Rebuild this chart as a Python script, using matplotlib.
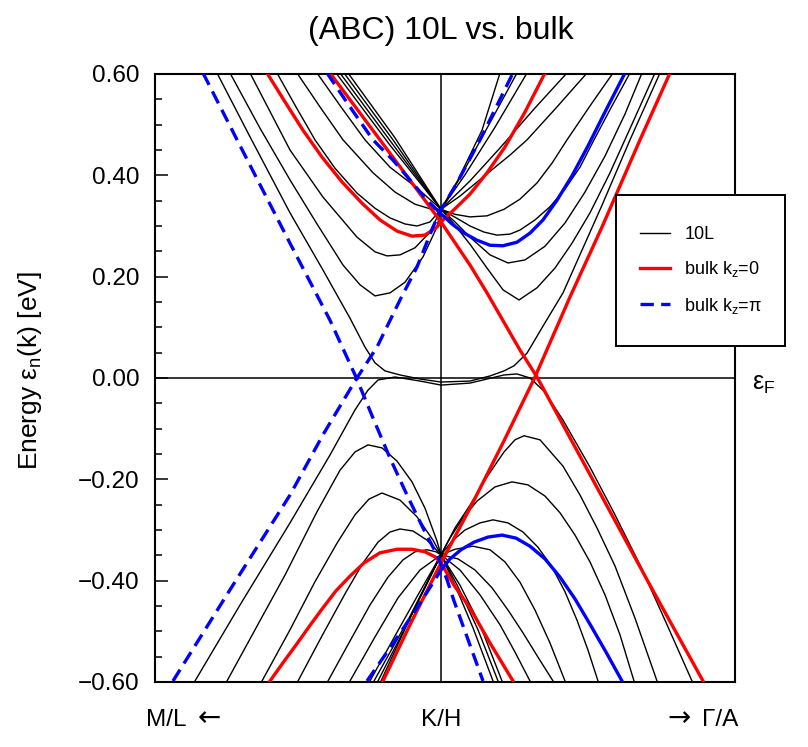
import matplotlib
matplotlib.use("Agg")
import matplotlib.pyplot as plt
import numpy as np
from matplotlib.ticker import MultipleLocator, FuncFormatter
from matplotlib.patches import Rectangle

# k along M/L <- K/H -> Gamma/A (K/H at 0), energies in eV

# ---- 10L (ABC) bands, conduction side
k_c1 = [-2.24, -1.91, -1.51, -1.18, -0.91, -0.76, -0.66, -0.56, -0.41, -0.21, 0, 0.29, 0.49, 0.63, 0.73, 0.86, 1.04, 1.22, 1.61, 1.89, 2.19]
e_c1 = [0.602, 0.476, 0.326, 0.213, 0.118, 0.061, 0.030, 0.014, 0.006, -0.002, -0.008, -0.006, 0.004, 0.014, 0.024, 0.049, 0.109, 0.168, 0.341, 0.470, 0.602]
k_c2 = [-2.11, -1.81, -1.51, -1.24, -0.98, -0.81, -0.66, -0.51, -0.36, -0.18, -0.04, 0, 0.13, 0.29, 0.46, 0.62, 0.78, 0.96, 1.14, 1.31, 1.49, 1.69, 1.91, 2.14]
e_c2 = [0.602, 0.493, 0.391, 0.304, 0.223, 0.184, 0.162, 0.168, 0.189, 0.239, 0.298, 0.333, 0.304, 0.264, 0.217, 0.174, 0.154, 0.178, 0.217, 0.266, 0.326, 0.405, 0.501, 0.602]
k_c3 = [-1.91, -1.51, -1.18, -0.84, -0.66, -0.54, -0.41, -0.26, -0.11, 0, 0.14, 0.29, 0.49, 0.67, 0.84, 1.04, 1.24, 1.44, 1.64, 1.84, 2.01]
e_c3 = [0.602, 0.450, 0.357, 0.278, 0.249, 0.241, 0.243, 0.257, 0.288, 0.333, 0.308, 0.278, 0.243, 0.227, 0.233, 0.260, 0.306, 0.367, 0.438, 0.521, 0.602]
k_c4 = [-1.64, -1.45, -1.26, -1.06, -0.84, -0.66, -0.51, -0.36, -0.24, -0.11, 0, 0.17, 0.29, 0.43, 0.56, 0.69, 0.79, 0.94, 1.09, 1.24, 1.39, 1.53, 1.71, 1.89]
e_c4 = [0.602, 0.535, 0.470, 0.414, 0.365, 0.335, 0.316, 0.304, 0.300, 0.308, 0.333, 0.314, 0.300, 0.288, 0.282, 0.284, 0.292, 0.312, 0.338, 0.373, 0.416, 0.470, 0.537, 0.602]
k_c5 = [-1.44, -1.21, -0.98, -0.68, -0.46, -0.26, -0.11, 0, 0.14, 0.29, 0.46, 0.63, 0.79, 0.96, 1.11, 1.26, 1.49, 1.72]
e_c5 = [0.602, 0.535, 0.470, 0.405, 0.367, 0.343, 0.334, 0.333, 0.323, 0.318, 0.320, 0.333, 0.353, 0.385, 0.424, 0.470, 0.537, 0.602]
k_c6 = [-1.24, -1.00, -0.76, -0.51, -0.24, 0, 0.19, 0.46, 0.69, 0.86, 1.16, 1.46]
e_c6 = [0.602, 0.535, 0.470, 0.416, 0.375, 0.333, 0.359, 0.403, 0.440, 0.470, 0.535, 0.602]
k_c7 = [-1.05, -0.52, 0, 0.29, 0.59, 0.94, 1.26]
e_c7 = [0.602, 0.462, 0.333, 0.389, 0.454, 0.533, 0.602]
k_c8 = [-1.01, -0.50, 0, 0.24, 0.54, 0.86]
e_c8 = [0.602, 0.466, 0.333, 0.401, 0.495, 0.602]
k_c9 = [-0.97, -0.48, 0, 0.19, 0.46, 0.76]
e_c9 = [0.602, 0.470, 0.333, 0.395, 0.493, 0.602]
k_c10 = [-0.93, -0.46, 0, 0.17, 0.41, 0.59]
e_c10 = [0.602, 0.474, 0.333, 0.391, 0.489, 0.602]

# ---- 10L bands, valence side
k_v1 = [-2.46, -2.01, -1.51, -1.11, -0.86, -0.73, -0.63, -0.46, -0.21, 0, 0.29, 0.63, 0.76, 0.89, 1.03, 1.22, 1.49, 1.74, 1.99, 2.24, 2.51]
e_v1 = [-0.598, -0.448, -0.286, -0.152, -0.063, -0.024, -0.004, 0.002, -0.006, -0.014, -0.010, 0.006, 0.008, 0.000, -0.026, -0.083, -0.176, -0.270, -0.369, -0.478, -0.598]
k_v2 = [-2.14, -1.86, -1.56, -1.24, -1.01, -0.86, -0.73, -0.59, -0.44, -0.29, -0.16, -0.04, 0, 0.14, 0.29, 0.46, 0.63, 0.74, 0.83, 0.99, 1.22, 1.39, 1.56, 1.74, 1.94, 2.16]
e_v2 = [-0.598, -0.497, -0.389, -0.264, -0.182, -0.146, -0.132, -0.138, -0.164, -0.205, -0.257, -0.322, -0.349, -0.296, -0.251, -0.195, -0.146, -0.122, -0.114, -0.122, -0.174, -0.231, -0.296, -0.371, -0.474, -0.598]
k_v3 = [-1.79, -1.51, -1.26, -1.04, -0.86, -0.72, -0.59, -0.41, -0.24, -0.08, 0, 0.09, 0.22, 0.36, 0.54, 0.71, 0.87, 1.04, 1.19, 1.34, 1.49, 1.64, 1.79, 1.93]
e_v3 = [-0.598, -0.497, -0.402, -0.326, -0.270, -0.239, -0.227, -0.241, -0.274, -0.320, -0.349, -0.316, -0.276, -0.243, -0.215, -0.205, -0.211, -0.233, -0.266, -0.310, -0.363, -0.428, -0.507, -0.598]
k_v4 = [-1.43, -1.19, -0.96, -0.78, -0.63, -0.51, -0.41, -0.28, -0.14, 0, 0.11, 0.24, 0.39, 0.52, 0.67, 0.82, 0.97, 1.11, 1.24, 1.36, 1.47, 1.57]
e_v4 = [-0.598, -0.509, -0.426, -0.365, -0.324, -0.304, -0.298, -0.302, -0.320, -0.349, -0.322, -0.300, -0.286, -0.280, -0.286, -0.304, -0.334, -0.373, -0.422, -0.478, -0.537, -0.598]
k_v5 = [-1.13, -0.91, -0.71, -0.53, -0.38, -0.26, -0.14, -0.05, 0, 0.14, 0.32, 0.49, 0.64, 0.79, 0.94, 1.09, 1.24]
e_v5 = [-0.598, -0.519, -0.448, -0.393, -0.359, -0.343, -0.339, -0.343, -0.349, -0.338, -0.332, -0.339, -0.363, -0.403, -0.458, -0.523, -0.598]
k_v6 = [-0.91, -0.66, -0.43, -0.21, 0, 0.17, 0.34, 0.51, 0.67, 0.82, 0.97, 1.12]
e_v6 = [-0.598, -0.511, -0.434, -0.379, -0.349, -0.357, -0.379, -0.414, -0.458, -0.503, -0.551, -0.598]
k_v7 = [-0.71, -0.46, -0.23, 0, 0.19, 0.39, 0.59, 0.74, 0.89]
e_v7 = [-0.598, -0.509, -0.428, -0.349, -0.379, -0.428, -0.487, -0.541, -0.598]
k_v8 = [-0.67, -0.33, 0, 0.19, 0.39, 0.61]
e_v8 = [-0.598, -0.478, -0.349, -0.409, -0.487, -0.598]
k_v9 = [-0.63, -0.31, 0, 0.17, 0.37, 0.57]
e_v9 = [-0.598, -0.474, -0.349, -0.412, -0.497, -0.598]
k_v10 = [-0.60, -0.30, 0, 0.14, 0.32, 0.52]
e_v10 = [-0.598, -0.470, -0.349, -0.409, -0.493, -0.598]

# ---- bulk, kz = 0
k_r1 = [-1.11, -0.61, 0, 0.29, 0.46, 0.79, 0.96, 1.59, 2.09, 2.62]
e_r1 = [0.602, 0.470, 0.308, 0.223, 0.168, 0.055, 0.002, -0.227, -0.409, -0.598]
k_r2 = [-0.58, -0.31, 0, 0.29, 0.63, 0.94, 1.29, 1.61, 1.99, 2.29]
e_r2 = [-0.598, -0.487, -0.365, -0.257, -0.124, 0.002, 0.160, 0.298, 0.470, 0.602]
k_r3 = [-1.74, -1.56, -1.38, -1.19, -0.99, -0.79, -0.61, -0.44, -0.29, -0.16, -0.04, 0, 0.14, 0.29, 0.46, 0.64, 0.84, 1.04]
e_r3 = [0.602, 0.545, 0.489, 0.436, 0.387, 0.345, 0.312, 0.290, 0.280, 0.282, 0.298, 0.308, 0.334, 0.363, 0.405, 0.456, 0.525, 0.602]
k_r4 = [-1.71, -1.58, -1.45, -1.32, -1.19, -1.05, -0.91, -0.77, -0.61, -0.44, -0.29, -0.16, -0.06, 0, 0.13, 0.29, 0.49, 0.72]
e_r4 = [-0.598, -0.562, -0.527, -0.491, -0.456, -0.420, -0.391, -0.365, -0.345, -0.338, -0.338, -0.343, -0.353, -0.365, -0.409, -0.454, -0.523, -0.598]

# ---- bulk, kz = pi
k_b1 = [-2.38, -1.91, -1.51, -1.11, -0.85, -0.68, -0.51, -0.34, -0.18, -0.04, 0.06, 0.13, 0.42]
e_b1 = [0.602, 0.420, 0.266, 0.114, 0.002, -0.079, -0.158, -0.231, -0.296, -0.349, -0.398, -0.440, -0.598]
k_b2 = [-2.68, -2.11, -1.51, -1.18, -0.86, -0.64, -0.41, -0.24, -0.08, 0, 0.16, 0.39, 0.72]
e_b2 = [-0.598, -0.418, -0.231, -0.112, -0.006, 0.061, 0.154, 0.219, 0.298, 0.332, 0.385, 0.470, 0.602]
k_b3 = [-1.14, -0.91, -0.68, -0.48, -0.31, -0.14, 0, 0.11, 0.23, 0.36, 0.49, 0.62, 0.76, 0.89, 1.02, 1.16, 1.31, 1.47, 1.64, 1.84]
e_b3 = [0.602, 0.535, 0.470, 0.430, 0.391, 0.351, 0.324, 0.304, 0.286, 0.272, 0.262, 0.261, 0.268, 0.286, 0.312, 0.351, 0.399, 0.458, 0.525, 0.602]
k_b4 = [-0.74, -0.49, -0.24, 0, 0.09, 0.20, 0.33, 0.47, 0.61, 0.75, 0.89, 1.04, 1.19, 1.34, 1.49, 1.65, 1.81]
e_b4 = [-0.598, -0.527, -0.454, -0.379, -0.357, -0.339, -0.324, -0.314, -0.310, -0.316, -0.332, -0.357, -0.393, -0.436, -0.486, -0.541, -0.598]

# path labels under the axis (text part and arrow part)
xlab_pos = [-2.75, 0, 2.79]
xlab_txt = ["M/L", "K/H", "\u0393/A"]
arrow_pos = [-2.32, 2.385]
arrow_txt = ["\u2190", "\u2192"]

plt.rcParams['font.family'] = ['Liberation Sans', 'DejaVu Sans']
plt.rcParams['mathtext.default'] = 'regular'

W, H = 808, 747
fig = plt.figure(figsize=(W / 100, H / 100), dpi=100)
ax = fig.add_axes([155 / W, 1 - 682 / H, 580 / W, 608 / H])

black = [(k_c1, e_c1), (k_c2, e_c2), (k_c3, e_c3), (k_c4, e_c4), (k_c5, e_c5),
         (k_c6, e_c6), (k_c7, e_c7), (k_c8, e_c8), (k_c9, e_c9), (k_c10, e_c10),
         (k_v1, e_v1), (k_v2, e_v2), (k_v3, e_v3), (k_v4, e_v4), (k_v5, e_v5),
         (k_v6, e_v6), (k_v7, e_v7), (k_v8, e_v8), (k_v9, e_v9), (k_v10, e_v10)]
red = [(k_r1, e_r1), (k_r2, e_r2), (k_r3, e_r3), (k_r4, e_r4)]
blue_dash = [(k_b1, e_b1), (k_b2, e_b2)]
blue_split = [(k_b3, e_b3), (k_b4, e_b4)]

ax.axhline(0, color='black', lw=1.1, zorder=1)
ax.axvline(0, color='black', lw=1.1, zorder=1)

dash = (0, (4.0, 2.2))
for k, e in black:
    h_black, = ax.plot(k, e, color='black', lw=1.0, solid_joinstyle='round', zorder=2)
for k, e in red:
    h_red, = ax.plot(k, e, color='#ff0000', lw=2.4, solid_joinstyle='round', zorder=3)
for k, e in blue_dash:
    h_blue, = ax.plot(k, e, color='#0000ff', lw=2.4, ls=dash, zorder=4)
for k, e in blue_split:
    k = np.array(k)
    e = np.array(e)
    left = k <= 0
    right = k >= 0
    ax.plot(k[left], e[left], color='#0000ff', lw=2.4, ls=dash, zorder=4)
    ax.plot(k[right], e[right], color='#0000ff', lw=2.4, solid_joinstyle='round', zorder=4)

ax.set_xlim(-2.86, 2.94)
ax.set_ylim(-0.6, 0.6)

ax.yaxis.set_major_locator(MultipleLocator(0.2))
ax.yaxis.set_minor_locator(MultipleLocator(0.05))
ax.yaxis.set_major_formatter(FuncFormatter(lambda v, p: f"{round(v, 2) + 0.0:.2f}".replace('-', '\u2212')))
ax.tick_params(axis='y', which='both', direction='in', left=True, right=False, labelsize=17.5, pad=11)
ax.tick_params(axis='y', which='major', length=9, width=1.1)
ax.tick_params(axis='y', which='minor', length=5, width=1.1)
ax.set_xticks([])
for s in ax.spines.values():
    s.set_linewidth(1.5)

xt = ax.get_xaxis_transform()
y_lab = (682 - 726) / 608
for x, t in zip(xlab_pos, xlab_txt):
    ax.text(x, y_lab, t, transform=xt, fontsize=17.5, ha='center', va='baseline', clip_on=False)
for x, t in zip(arrow_pos, arrow_txt):
    ax.text(x, y_lab, t, transform=xt, fontsize=20, family='DejaVu Sans', ha='center', va='baseline', clip_on=False)

# legend box drawn by hand so its size matches, entries placed inside it
ax.add_patch(Rectangle((616 / W, 1 - 346 / H), 169 / W, 151 / H, transform=fig.transFigure,
                       facecolor='white', edgecolor='black', lw=1.4, zorder=9, clip_on=False))
leg = ax.legend([h_black, h_red, h_blue], ['10L', 'bulk k$_z$=0', 'bulk k$_z$=\u03c0'],
                loc='upper left', bbox_to_anchor=(640 / W, 1 - 226 / H), bbox_transform=fig.transFigure,
                fontsize=13, frameon=False, borderpad=0, labelspacing=0.9,
                handlelength=1.65, handletextpad=0.8, borderaxespad=0)
leg.set_zorder(10)

ax.text(1.03, -0.012, '\u03b5$_F$', transform=ax.get_yaxis_transform(), fontsize=18, ha='left', va='center')
fig.text(30 / W, 1 - 370 / H, 'Energy \u03b5$_n$(k) [eV]', rotation=90, ha='center', va='center', fontsize=19)
fig.text(441 / W, 1 - 31 / H, '(ABC) 10L vs. bulk', ha='center', va='center', fontsize=23)

fig.savefig('out.png', dpi=100)
